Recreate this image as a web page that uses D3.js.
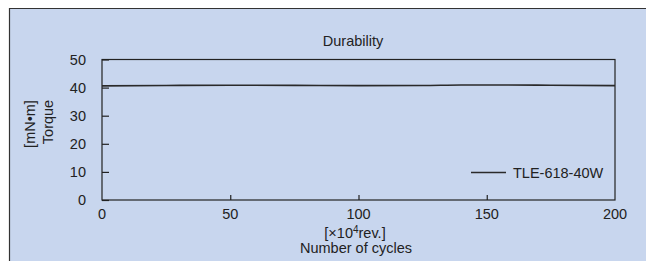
<!DOCTYPE html>
<html><head><meta charset="utf-8">
<script src="https://cdn.jsdelivr.net/npm/d3@7"></script>
<style>html,body{margin:0;padding:0;background:#fff;}svg{display:block;font-family:"Liberation Sans",Arial,sans-serif;}</style>
</head><body>
<script>
const title = "Durability";
const seriesName = "TLE-618-40W";
const cycles = [0, 25, 50, 75, 100, 125, 140, 150, 175, 200];
const torque = [40.6, 40.75, 40.85, 40.8, 40.7, 40.75, 40.95, 40.95, 40.85, 40.7];
const xTicks = [0, 50, 100, 150, 200];
const yTicks = [0, 10, 20, 30, 40, 50];

const W = 646, H = 261;
const svg = d3.select("body").append("svg").attr("width", W).attr("height", H);
svg.append("rect").attr("x", 9).attr("y", 8).attr("width", W - 9).attr("height", H - 8).attr("fill", "#c8d6ee");
svg.append("path").attr("d", `M9.5,${H}V8.5H${W}`).attr("fill", "none").attr("stroke", "#333").attr("stroke-width", 1.2);

const x = d3.scaleLinear().domain([0, 200]).range([102, 615]);
const y = d3.scaleLinear().domain([0, 50]).range([200, 59.5]);
const ink = "#222";
const fs = 14.5;

// frame
svg.append("rect").attr("x", x(0)).attr("y", y(50)).attr("width", x(200) - x(0)).attr("height", y(0) - y(50))
  .attr("fill", "none").attr("stroke", ink).attr("stroke-width", 1.2);

// y ticks
const gy = svg.append("g").attr("transform", `translate(${x(0)},0)`)
  .call(d3.axisRight(y).tickValues(yTicks).tickSize(7).tickFormat(""));
gy.select(".domain").remove();
gy.selectAll("line").attr("stroke", ink).attr("stroke-width", 1.2);
svg.selectAll(".ylab").data(yTicks).join("text").attr("x", 86).attr("y", d => y(d)).attr("dy", "0.36em")
  .attr("text-anchor", "end").attr("font-size", fs).attr("fill", ink).text(d => d);

// x ticks
const gx = svg.append("g").attr("transform", `translate(0,${y(0)})`)
  .call(d3.axisTop(x).tickValues(xTicks.slice(1, -1)).tickSize(5).tickFormat(""));
gx.select(".domain").remove();
gx.selectAll("line").attr("stroke", ink).attr("stroke-width", 1.2);
svg.selectAll(".xlab").data(xTicks).join("text").attr("x", d => x(d)).attr("y", 218.5)
  .attr("text-anchor", "middle").attr("font-size", fs).attr("fill", ink).text(d => d);

// title and axis labels
svg.append("text").attr("x", 353).attr("y", 46).attr("text-anchor", "middle").attr("font-size", fs).attr("fill", ink).text(title);
const xl = svg.append("text").attr("x", 355).attr("y", 238).attr("text-anchor", "middle").attr("font-size", fs).attr("fill", ink);
xl.append("tspan").text("[×10");
xl.append("tspan").attr("font-size", 10).attr("dy", -5).text("4");
xl.append("tspan").attr("dy", 5).text("rev.]");
svg.append("text").attr("x", 356).attr("y", 253).attr("text-anchor", "middle").attr("font-size", fs).attr("fill", ink).text("Number of cycles");
svg.append("text").attr("transform", "translate(53,122) rotate(-90)").attr("text-anchor", "middle").attr("font-size", fs).attr("fill", ink).text("Torque");
svg.append("text").attr("transform", "translate(35,124) rotate(-90)").attr("text-anchor", "middle").attr("font-size", fs).attr("fill", ink).text("[mN•m]");

// data line
const line = d3.line().x((d, i) => x(cycles[i])).y(d => y(d)).curve(d3.curveMonotoneX);
svg.append("path").datum(torque).attr("d", line).attr("fill", "none").attr("stroke", "#2a2a2a").attr("stroke-width", 1.6);

// legend
svg.append("line").attr("x1", 471).attr("x2", 506).attr("y1", 172.5).attr("y2", 172.5).attr("stroke", "#2a2a2a").attr("stroke-width", 1.4);
svg.append("text").attr("x", 513).attr("y", 172.5).attr("dy", "0.36em").attr("font-size", fs).attr("fill", ink).text(seriesName);
</script>
</body></html>
